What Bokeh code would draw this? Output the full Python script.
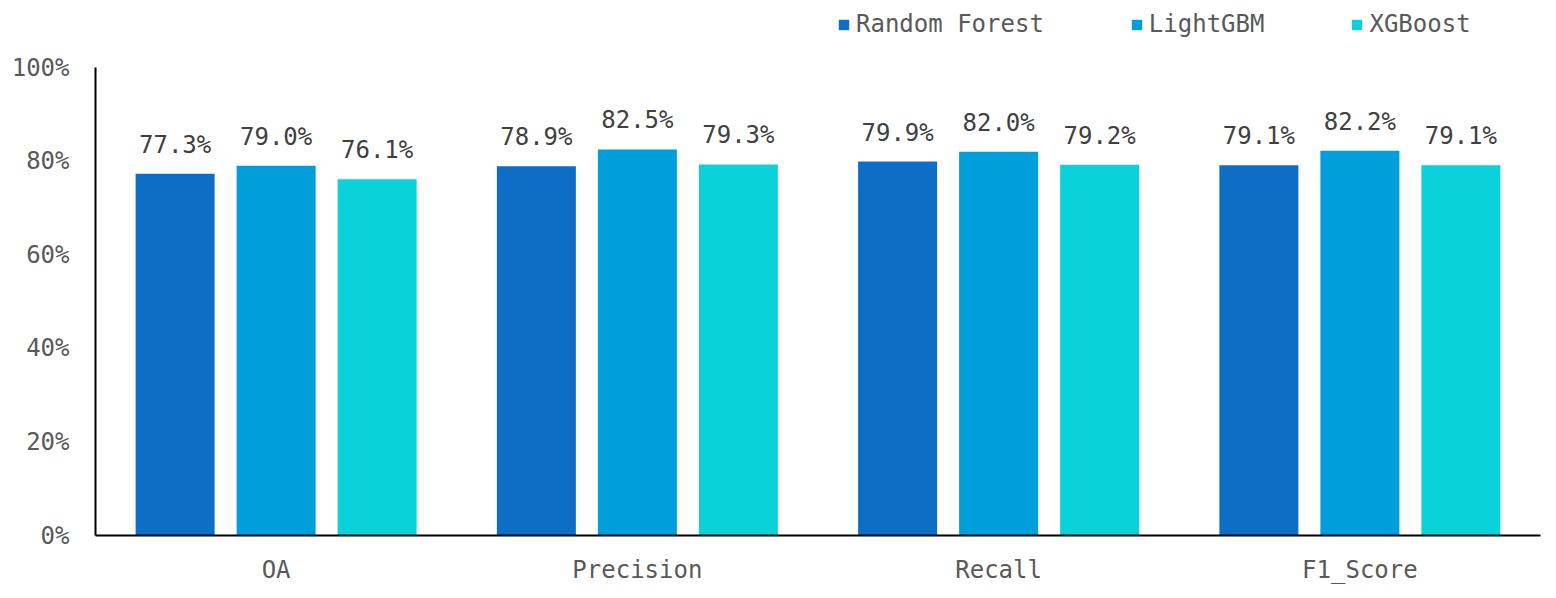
from bokeh.plotting import figure
from bokeh.models import ColumnDataSource, FixedTicker, PrintfTickFormatter, Legend, LegendItem, Range1d
from bokeh.core.properties import value
from bokeh.embed import file_html
from bokeh.resources import INLINE

categories = ["OA", "Precision", "Recall", "F1_Score"]
series_names = ["Random Forest", "LightGBM", "XGBoost"]
rf = [77.3, 78.9, 79.9, 79.1]
lgbm = [79.0, 82.5, 82.0, 82.2]
xgb = [76.1, 79.3, 79.2, 79.1]
y_ticks = [0, 20, 40, 60, 80, 100]

colors = ["#0E6EC5", "#009FDB", "#0BD1DB"]
FONT = "DejaVu Sans Mono"
FS = "24px"

# frame spans the full height above the x axis; the axis itself stops at 100%
p = figure(width=1556, height=598, output_backend="svg", toolbar_location=None,
           x_range=Range1d(0, 4), y_range=Range1d(0, 100 * 535 / 468),
           min_border_left=95, min_border_right=16, min_border_top=0, min_border_bottom=63)
p.outline_line_color = None
p.xgrid.visible = False
p.ygrid.visible = False
p.background_fill_color = "white"
p.border_fill_color = "white"

offsets = [-0.2796, 0.0, 0.2796]
width = 0.2187
renderers = []
for name, vals, col, off in zip(series_names, [rf, lgbm, xgb], colors, offsets):
    xs = [i + 0.5 + off for i in range(len(categories))]
    src = ColumnDataSource(dict(x=xs, top=vals, lbl=["%.1f%%" % v for v in vals]))
    r = p.vbar(x="x", top="top", width=width, bottom=0, source=src, fill_color=col, line_color=None)
    renderers.append(r)
    p.text(x="x", y="top", text="lbl", source=src, text_align="center", text_baseline="bottom",
           y_offset=-15, text_font=value(FONT), text_font_size=FS, text_color="#404040")

# axes
p.xaxis.ticker = FixedTicker(ticks=[i + 0.5 for i in range(len(categories))])
p.xaxis.major_label_overrides = {i + 0.5: c for i, c in enumerate(categories)}
p.yaxis.ticker = FixedTicker(ticks=y_ticks)
p.yaxis.formatter = PrintfTickFormatter(format="%d%%")
p.yaxis.bounds = (0, 100)
for ax in (p.xaxis, p.yaxis):
    ax.major_tick_line_color = None
    ax.minor_tick_line_color = None
    ax.axis_line_color = "black"
    ax.axis_line_width = 2
    ax.major_label_text_font = FONT
    ax.major_label_text_font_size = FS
    ax.major_label_text_color = "#595959"
p.yaxis.major_label_standoff = 20
p.xaxis.major_label_standoff = 14

legend = Legend(items=[LegendItem(label=n, renderers=[r]) for n, r in zip(series_names, renderers)],
                orientation="horizontal", location=(742, 497),
                padding=0, margin=0, spacing=86, label_standoff=6,
                glyph_width=13, glyph_height=13,
                label_text_font=FONT, label_text_font_size=FS, label_text_color="#595959",
                border_line_alpha=0, background_fill_alpha=0)
p.add_layout(legend, "center")

open("out.html", "w").write(file_html(p, INLINE))
